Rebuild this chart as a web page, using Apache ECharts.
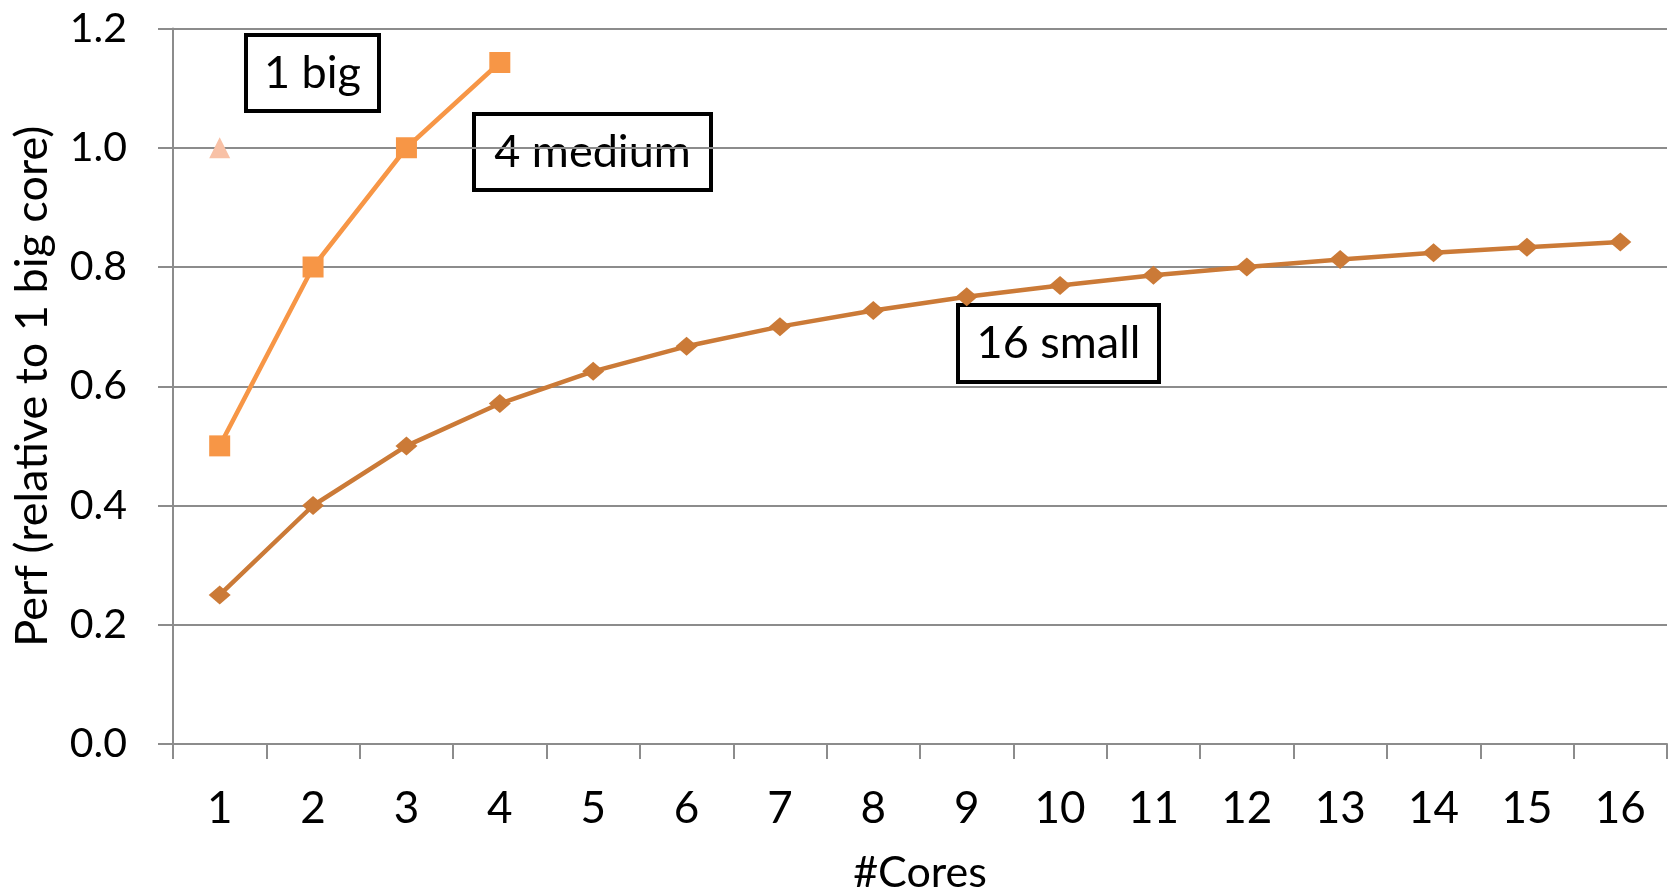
<!DOCTYPE html>
<html><head><meta charset="utf-8">
<script src="https://cdn.jsdelivr.net/npm/echarts@6/dist/echarts.min.js"></script>
<style>html,body{margin:0;padding:0;background:#fff}#c{width:1671px;height:891px}</style>
</head><body><div id="c"></div>
<script>
const categories = ['1','2','3','4','5','6','7','8','9','10','11','12','13','14','15','16'];
const bigValues = [1.0];
const mediumValues = [0.5, 0.8, 1.0, 1.143];
const smallValues = [0.25, 0.4, 0.5, 0.571, 0.625, 0.667, 0.7, 0.727, 0.75, 0.769, 0.786, 0.8, 0.8125, 0.824, 0.833, 0.842];
const yTicks = ['0.0','0.2','0.4','0.6','0.8','1.0','1.2'];
const labels = [
  {text:'1 big', left:244, top:33, w:137, h:80},
  {text:'4 medium', left:472, top:112, w:241, h:80},
  {text:'16 small', left:956, top:303, w:205, h:81}
];
const FONT = 'Lato, "Open Sans", sans-serif';
const chart = echarts.init(document.getElementById('c'));
chart.setOption({
  animation:false,
  grid:{left:173, right:4, top:28.5, bottom:147, containLabel:false, outerBoundsMode:'none'},
  xAxis:{type:'category', data:categories, boundaryGap:true,
    name:'#Cores', nameLocation:'middle', nameGap:108,
    nameTextStyle:{fontFamily:FONT, fontSize:43, color:'#000'},
    axisLine:{lineStyle:{color:'#8c8c8c', width:2}},
    axisTick:{show:true, length:15, lineStyle:{color:'#8c8c8c', width:2}, alignWithLabel:false},
    axisLabel:{fontFamily:FONT, fontSize:44, color:'#000', margin:43}},
  yAxis:{type:'value', min:0, max:1.2, interval:0.2,
    name:'Perf (relative to 1 big core)', nameLocation:'middle', nameGap:118, nameRotate:90,
    nameTextStyle:{fontFamily:FONT, fontSize:45, color:'#000'},
    axisLine:{show:true, lineStyle:{color:'#8c8c8c', width:2}},
    axisTick:{show:true, length:15, lineStyle:{color:'#8c8c8c', width:2}},
    splitLine:{lineStyle:{color:'#8c8c8c', width:2}},
    axisLabel:{fontFamily:FONT, fontSize:41, color:'#000', margin:46,
      formatter:(v)=>yTicks[Math.round(v/0.2)]}},
  series:[
    {name:'1 big', type:'line', data:bigValues, symbol:'triangle', symbolSize:21,
      itemStyle:{color:'#F8C1A6'}, lineStyle:{width:0}},
    {name:'4 medium', type:'line', data:mediumValues, symbol:'rect', symbolSize:21,
      itemStyle:{color:'#F79646'}, lineStyle:{color:'#F79646', width:4.5}},
    {name:'16 small', type:'line', data:smallValues, symbol:'diamond', symbolSize:[22,19],
      itemStyle:{color:'#CB7A37'}, lineStyle:{color:'#CB7A37', width:4.5}}
  ],
  graphic: labels.map(l=>({type:'group', left:l.left, top:l.top, z:100, children:[
    {type:'rect', shape:{x:2,y:2,width:l.w-4,height:l.h-4}, style:{fill:'#fff', stroke:'#000', lineWidth:4}},
    {type:'text', x:l.w/2, y:l.h/2, style:{text:l.text, fontFamily:FONT, fontSize:45, fill:'#000', align:'center', verticalAlign:'middle'}}
  ]}))
});
</script></body></html>
